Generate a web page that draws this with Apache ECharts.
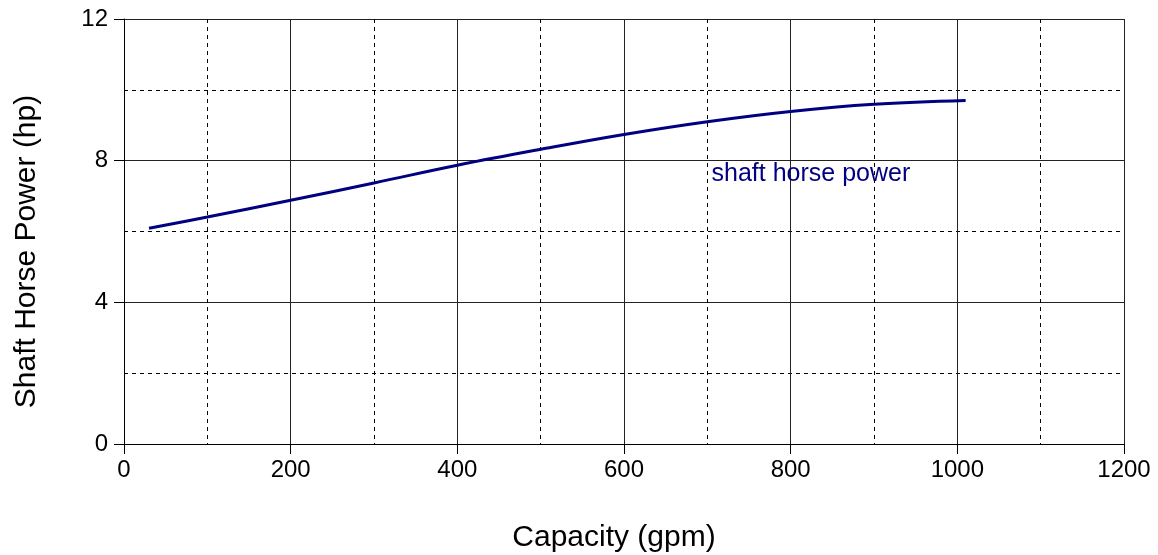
<!DOCTYPE html>
<html>
<head>
<meta charset="utf-8">
<script src="https://cdn.jsdelivr.net/npm/echarts@6/dist/echarts.min.js"></script>
<style>
html,body{margin:0;padding:0;background:#fff;}
#chart{width:1158px;height:555px;}
</style>
</head>
<body>
<div id="chart"></div>
<script>
// Capacity (gpm) and shaft horse power (hp)
const capacity = [30, 100, 200, 300, 400, 500, 600, 700, 800, 900, 1010];
const shaftHp  = [6.09, 6.41, 6.88, 7.37, 7.87, 8.32, 8.74, 9.10, 9.39, 9.59, 9.70];
const seriesLabel = 'shaft horse power';
const seriesLabelAt = [705, 7.62];
const xTitle = 'Capacity (gpm)';
const yTitle = 'Shaft Horse Power (hp)';

const FONT = '"Liberation Sans", Arial, sans-serif';
const chart = echarts.init(document.getElementById('chart'), null, {renderer: 'canvas'});

const axisCommon = {
  axisLine: {show: true, lineStyle: {color: '#000', width: 1}},
  axisTick: {show: true, length: 10, inside: false, lineStyle: {color: '#000'}},
  splitLine: {show: true, lineStyle: {color: '#222', width: 1, type: 'solid'}},
  minorTick: {show: false, splitNumber: 2},
  minorSplitLine: {show: true, lineStyle: {color: '#000', width: 1, type: [4, 4]}},
  axisLabel: {color: '#000', fontFamily: FONT, fontSize: 24, formatter: v => String(v)}
};

chart.setOption({
  animation: false,
  backgroundColor: '#fff',
  grid: {left: 124, right: 34, top: 19, bottom: 111, containLabel: false, outerBoundsMode: 'none'},
  xAxis: Object.assign({}, axisCommon, {
    type: 'value', min: 0, max: 1200, interval: 200,
    name: xTitle, nameLocation: 'middle', nameGap: 79,
    nameTextStyle: {color: '#000', fontFamily: FONT, fontSize: 30, padding: [0, 20, 0, 0]},
    axisLabel: Object.assign({}, axisCommon.axisLabel, {margin: 14})
  }),
  yAxis: Object.assign({}, axisCommon, {
    type: 'value', min: 0, max: 12, interval: 4,
    name: yTitle, nameLocation: 'middle', nameGap: 82,
    nameTextStyle: {color: '#000', fontFamily: FONT, fontSize: 30, padding: [0, 40, 0, 0]},
    axisLabel: Object.assign({}, axisCommon.axisLabel, {margin: 16})
  }),
  series: [{
    type: 'line',
    data: capacity.map((c, i) => [c, shaftHp[i]]),
    smooth: 0.4,
    showSymbol: false,
    lineStyle: {color: '#000080', width: 3},
    itemStyle: {color: '#000080'},
    markPoint: {
      symbol: 'circle', symbolSize: 0,
      data: [{coord: seriesLabelAt, value: seriesLabel}],
      label: {
        show: true, position: 'right', distance: 0,
        formatter: seriesLabel,
        color: '#000080', fontFamily: FONT, fontSize: 25
      }
    }
  }]
});
</script>
</body>
</html>
